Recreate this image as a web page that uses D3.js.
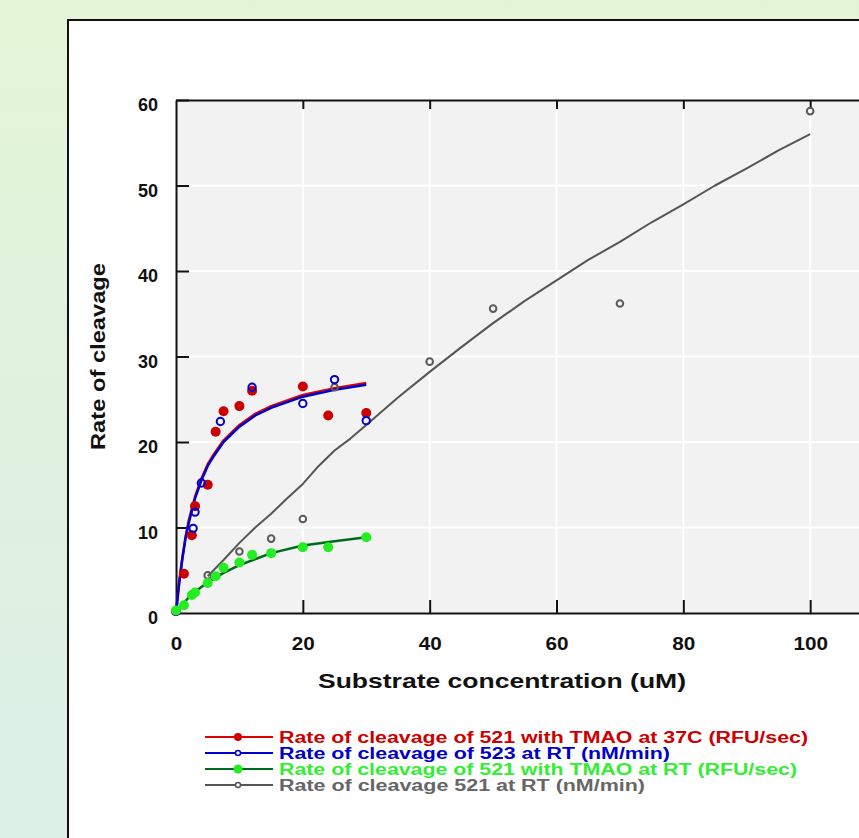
<!DOCTYPE html>
<html>
<head>
<meta charset="utf-8">
<script src="https://cdn.jsdelivr.net/npm/d3@7"></script>
<style>
  body { margin: 0; overflow: hidden; }
  svg { display: block; font-family: "Liberation Sans", Arial, sans-serif; }
</style>
</head>
<body>
<div id="chart"></div>
<script>
// measured points
var red_x = [0, 1.25, 2.5, 3, 5, 6.25, 7.5, 10, 12, 20, 24, 30]
var red_y = [0.2, 4.6, 9.1, 12.5, 15.0, 21.2, 23.6, 24.2, 26.0, 26.5, 23.1, 23.4]

var blue_x = [0, 2.7, 3, 4, 7, 12, 20, 25, 30]
var blue_y = [0.2, 9.9, 11.8, 15.2, 22.4, 26.4, 24.5, 27.3, 22.5]

var green_x = [0, 1.25, 2.5, 3, 5, 6.25, 7.5, 10, 12, 15, 20, 24, 30]
var green_y = [0.3, 0.9, 2.1, 2.4, 3.5, 4.3, 5.3, 5.9, 6.8, 7.0, 7.7, 7.7, 8.85]

var gray_x = [5, 10, 15, 20, 25, 40, 50, 70, 100]
var gray_y = [4.4, 7.2, 8.7, 11.0, 26.4, 29.4, 35.6, 36.2, 58.7]

// fitted curves
var fit_ab_x = [0, 0.5, 1, 1.5, 2, 3, 4, 5, 6, 7.5, 10, 12.5, 15, 20, 25, 30]
var fit_red_y = [0, 3.6, 6.5, 8.9, 10.8, 13.6, 15.7, 17.4, 18.6, 20.2, 22.0, 23.3, 24.2, 25.5, 26.3, 26.9]
var fit_blue_y = [0, 3.5, 6.3, 8.7, 10.5, 13.4, 15.5, 17.2, 18.4, 20.0, 21.8, 23.1, 24.0, 25.3, 26.1, 26.7]

var fit_green_x = [0, 1.25, 2.5, 5, 7.5, 10, 15, 20, 25, 30]
var fit_green_y = [0, 1.2, 2.2, 3.6, 4.7, 5.6, 7.0, 7.9, 8.4, 8.85]

var fit_gray_x = [5, 7.5, 10, 12.5, 15, 17.5, 20, 22.5, 25, 27.5, 30, 35, 40, 45, 50, 55, 60, 65, 70, 75, 80, 85, 90, 95, 100]
var fit_gray_y = [4.3, 6.2, 8.2, 10.0, 11.6, 13.4, 15.1, 17.2, 19.0, 20.4, 22.0, 25.2, 28.2, 31.1, 33.9, 36.5, 38.9, 41.3, 43.4, 45.7, 47.8, 50.0, 52.0, 54.1, 56.0]

var x_ticks = [0, 20, 40, 60, 80, 100]
var y_ticks = [0, 10, 20, 30, 40, 50, 60]

var legend_labels = [
    "Rate of cleavage of 521 with TMAO at 37C (RFU/sec)",
    "Rate of cleavage of 523 at RT (nM/min)",
    "Rate of cleavage of 521 with TMAO at RT (RFU/sec)",
    "Rate of cleavage 521 at RT (nM/min)"
]

var W = 859, H = 838

var svg = d3.select("#chart").append("svg")
    .attr("width", W)
    .attr("height", H)

var defs = svg.append("defs")
var grad = defs.append("linearGradient").attr("id", "bg").attr("x1", 0).attr("y1", 0).attr("x2", 0).attr("y2", 1)
grad.append("stop").attr("offset", "0%").attr("stop-color", "#e4f5d7")
grad.append("stop").attr("offset", "100%").attr("stop-color", "#dbefe7")

svg.append("rect").attr("width", W).attr("height", H).attr("fill", "url(#bg)")

// white panel
svg.append("rect")
    .attr("x", 68).attr("y", 20)
    .attr("width", 900).attr("height", 900)
    .attr("fill", "white")
    .attr("stroke", "#111")
    .attr("stroke-width", 2)

var x = d3.scaleLinear().domain([0, 120]).range([176, 937])
var y = d3.scaleLinear().domain([0, 60]).range([613, 100])

// plot background
svg.append("rect")
    .attr("x", x(0)).attr("y", y(60))
    .attr("width", x(120) - x(0)).attr("height", y(0) - y(60))
    .attr("fill", "#f2f2f2")

// grid
svg.append("g").selectAll("line")
    .data(x_ticks.filter(d => d > 0))
    .enter().append("line")
    .attr("x1", d => x(d)).attr("x2", d => x(d))
    .attr("y1", y(60)).attr("y2", y(0))
    .attr("stroke", "white").attr("stroke-width", 2)

svg.append("g").selectAll("line")
    .data(y_ticks.filter(d => d > 0 && d < 60))
    .enter().append("line")
    .attr("x1", x(0)).attr("x2", x(120))
    .attr("y1", d => y(d)).attr("y2", d => y(d))
    .attr("stroke", "white").attr("stroke-width", 2)

// axes
var xAxis = svg.append("g")
    .attr("transform", "translate(0," + y(0) + ")")
    .call(d3.axisBottom(x).tickValues(x_ticks).tickSize(-13).tickPadding(24).tickSizeOuter(0))
var xTop = svg.append("g")
    .attr("transform", "translate(0," + y(60) + ")")
    .call(d3.axisTop(x).tickValues(x_ticks).tickSize(-9).tickFormat("").tickSizeOuter(0))
var yAxis = svg.append("g")
    .attr("transform", "translate(" + x(0) + ",0)")
    .call(d3.axisLeft(y).tickValues(y_ticks).tickSize(-13).tickPadding(18).tickSizeOuter(0))

svg.selectAll(".domain").attr("stroke", "#111").attr("stroke-width", 2)
svg.selectAll(".tick line").attr("stroke", "#111").attr("stroke-width", 2)
svg.selectAll(".tick text")
    .attr("fill", "#111")
    .style("font-size", "18px")
    .style("font-weight", "bold")
    .style("font-family", "'Liberation Sans', Arial, sans-serif")
xAxis.selectAll(".tick text").attr("transform", "scale(1.15,1)")
yAxis.selectAll(".tick text").attr("dy", "0.6em")
yAxis.selectAll(".tick").filter(d => d === 0).select("line").remove()
xAxis.selectAll(".tick").filter(d => d === 0).select("line").remove()
xTop.selectAll(".tick").filter(d => d === 0).select("line").remove()

// axis titles
svg.append("text")
    .attr("x", 318).attr("y", 688)
    .attr("textLength", 368).attr("lengthAdjust", "spacingAndGlyphs")
    .style("font-size", "21px").style("font-weight", "bold")
    .attr("fill", "#111")
    .text("Substrate concentration (uM)")

svg.append("text")
    .attr("transform", "translate(105,450) rotate(-90)")
    .attr("textLength", 187).attr("lengthAdjust", "spacingAndGlyphs")
    .style("font-size", "20px").style("font-weight", "bold")
    .attr("fill", "#111")
    .text("Rate of cleavage")

var line = d3.line().curve(d3.curveLinear)

function drawLine(xs, ys, color, w) {
    svg.append("path")
        .datum(xs.map((v, i) => [x(v), y(ys[i])]))
        .attr("d", line)
        .attr("fill", "none")
        .attr("stroke", color)
        .attr("stroke-width", w)
        .attr("stroke-linejoin", "round")
}

drawLine(fit_gray_x, fit_gray_y, "#555555", 2)
drawLine(fit_green_x, fit_green_y, "#006a1c", 2.5)
drawLine(fit_ab_x, fit_red_y, "#e00000", 2.5)
drawLine(fit_ab_x, fit_blue_y, "#0000cc", 2.5)

// markers
function filled(xs, ys, color, r) {
    svg.append("g").selectAll("circle")
        .data(xs).enter().append("circle")
        .attr("cx", d => x(d)).attr("cy", (d, i) => y(ys[i]))
        .attr("r", r).attr("fill", color)
}
function hollow(xs, ys, color, r) {
    svg.append("g").selectAll("circle")
        .data(xs).enter().append("circle")
        .attr("cx", d => x(d)).attr("cy", (d, i) => y(ys[i]))
        .attr("r", r).attr("fill", "none")
        .attr("stroke", color).attr("stroke-width", 2)
}

filled(red_x, red_y, "#cc0000", 5)
hollow(gray_x, gray_y, "#5a5a5a", 3.3)
hollow(blue_x, blue_y, "#0000cc", 3.7)
filled(green_x, green_y, "#22ee22", 5)

// legend
var leg_colors = ["#cc0000", "#0000cc", "#33ee33", "#666666"]
var leg_line = ["#e00000", "#0000cc", "#006a1c", "#555555"]
var leg_w = [529, 391, 518, 366]
var leg_y = [737, 753, 769, 785]
var leg = svg.append("g")
legend_labels.forEach(function (lab, i) {
    leg.append("line")
        .attr("x1", 205).attr("x2", 273)
        .attr("y1", leg_y[i]).attr("y2", leg_y[i])
        .attr("stroke", leg_line[i]).attr("stroke-width", 2)
    if (i === 0) {
        leg.append("circle").attr("cx", 238).attr("cy", leg_y[i]).attr("r", 4).attr("fill", "#cc0000")
    } else if (i === 2) {
        leg.append("circle").attr("cx", 238).attr("cy", leg_y[i]).attr("r", 4.5).attr("fill", "#22ee22")
    } else {
        leg.append("circle").attr("cx", 238).attr("cy", leg_y[i]).attr("r", 2.5)
            .attr("fill", "white").attr("stroke", leg_line[i]).attr("stroke-width", 1.5)
    }
    leg.append("text")
        .attr("x", 279).attr("y", leg_y[i] + 6)
        .attr("textLength", leg_w[i]).attr("lengthAdjust", "spacingAndGlyphs")
        .style("font-size", "16px").style("font-weight", "bold")
        .attr("fill", leg_colors[i])
        .text(lab)
})
</script>
</body>
</html>
